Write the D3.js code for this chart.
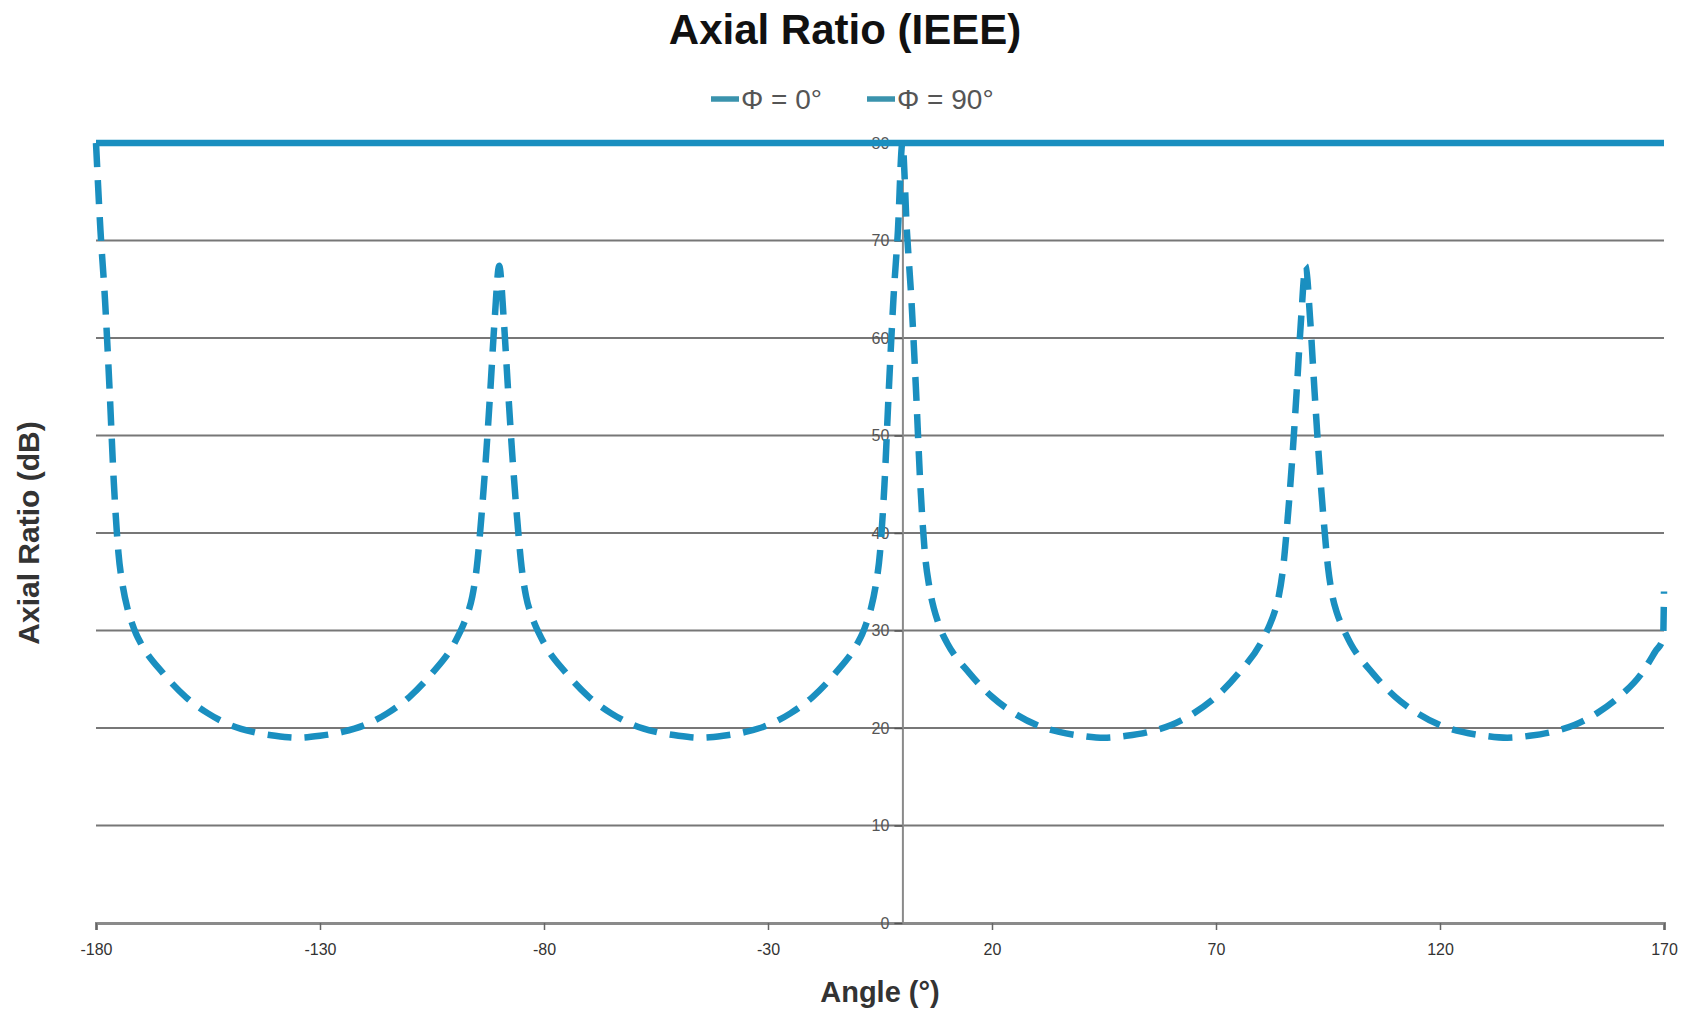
<!DOCTYPE html>
<html>
<head>
<meta charset="utf-8">
<script src="https://cdn.jsdelivr.net/npm/d3@7/dist/d3.min.js"></script>
<style>
  html, body { margin: 0; padding: 0; background: #fff; }
  svg { display: block; font-family: "Liberation Sans", Arial, sans-serif; }
</style>
</head>
<body>
<svg id="chart" width="1696" height="1012"></svg>
<script>
// ---- Data ----
const seriesNames = ["\u03A6 = 0\u00B0", "\u03A6 = 90\u00B0"];

const phi0Angles = [-180, 170];
const phi0Values = [80, 80];

const phi90Angles = [
  -180, -179, -178, -177, -176, -175, -174, -173, -172, -171, -170,
  -165, -160, -155, -150, -145, -140, -135, -130, -125, -120, -115, -110, -105,
  -100, -99, -98, -97, -96, -95, -94, -93, -92, -91, -90,
  -89, -88, -87, -86, -85, -84, -83, -82, -81, -80,
  -75, -70, -65, -60, -55, -50, -45, -40, -35, -30, -25, -20, -15,
  -10, -9, -8, -7, -6, -5, -4, -3, -2, -1, 0,
  1, 2, 3, 4, 5, 6, 7, 8, 9, 10,
  15, 20, 25, 30, 35, 40, 45, 50, 55, 60, 65, 70, 75,
  80, 81, 82, 83, 84, 85, 86, 87, 88, 89, 90,
  91, 92, 93, 94, 95, 96, 97, 98, 99, 100,
  105, 110, 115, 120, 125, 130, 135, 140, 145, 150, 155, 160, 165,
  168, 169.8, 170
];
const phi90Values = [
  80, 71, 64, 55, 45, 38, 34.5, 32.3, 30.8, 29.6, 28.7,
  25.6, 23.2, 21.5, 20.3, 19.6, 19.2, 19.0, 19.2, 19.6, 20.3, 21.5, 23.2, 25.6,
  28.7, 29.6, 30.6, 31.8, 33.5, 36.5, 41.5, 47.5, 54.5, 62, 67.4,
  62, 54.5, 47.5, 41.5, 36.5, 33.5, 31.8, 30.6, 29.6, 28.7,
  25.6, 23.2, 21.5, 20.3, 19.6, 19.2, 19.0, 19.2, 19.6, 20.3, 21.5, 23.2, 25.6,
  28.7, 29.6, 30.8, 32.3, 34.5, 38, 45, 55, 64, 71, 80,
  71, 64, 55, 45, 38, 34.5, 32.3, 30.8, 29.6, 28.7,
  25.6, 23.2, 21.5, 20.3, 19.6, 19.2, 19.0, 19.2, 19.6, 20.3, 21.5, 23.2, 25.6,
  28.7, 29.6, 30.6, 31.8, 33.5, 36.5, 41.5, 47.5, 54.5, 62, 67.4,
  62, 54.5, 47.5, 41.5, 36.5, 33.5, 31.8, 30.6, 29.6, 28.7,
  25.6, 23.2, 21.5, 20.3, 19.6, 19.2, 19.0, 19.2, 19.6, 20.3, 21.5, 23.2, 25.6,
  27.8, 29.2, 34
];

const xTicks = [-180, -130, -80, -30, 20, 70, 120, 170];
const yTicks = [0, 10, 20, 30, 40, 50, 60, 70, 80];
const gridValues = [10, 20, 30, 40, 50, 60, 70, 80];

// ---- Chart ----
const svg = d3.select("#chart");
const lineColor = "#1a8fc0";

const x = d3.scaleLinear().domain([-180, 170]).range([96, 1664]);
const y = d3.scaleLinear().domain([0, 80]).range([923, 143]);

svg.append("rect").attr("width", 1696).attr("height", 1012).attr("fill", "#fff");

// gridlines
svg.append("g").selectAll("line").data(gridValues).join("line")
  .attr("x1", x(-180)).attr("x2", x(170))
  .attr("y1", d => y(d)).attr("y2", d => y(d))
  .attr("stroke", "#777").attr("stroke-width", 2);

// x axis
const xAxis = svg.append("g")
  .attr("transform", `translate(0,${y(0)})`)
  .call(d3.axisBottom(x).tickValues(xTicks).tickSize(7).tickPadding(14).tickFormat(d => String(d)));
xAxis.select(".domain").attr("stroke", "#8a8a8a").attr("stroke-width", 3);
xAxis.selectAll(".tick line").attr("stroke", "#666").attr("stroke-width", 1.5);
xAxis.selectAll(".tick text").attr("font-size", 16).attr("fill", "#333")
  .attr("font-family", "'Liberation Sans', Arial, sans-serif");

// y axis at angle 0
const yAxis = svg.append("g")
  .attr("transform", `translate(${x(0)},0)`)
  .call(d3.axisLeft(y).tickValues(yTicks).tickSize(8).tickPadding(5).tickFormat(d => String(d)));
yAxis.select(".domain").attr("stroke", "#8a8a8a").attr("stroke-width", 2);
yAxis.selectAll(".tick line").attr("stroke", "#555").attr("stroke-width", 1.5);
yAxis.selectAll(".tick text").attr("font-size", 16).attr("fill", "#555")
  .attr("font-family", "'Liberation Sans', Arial, sans-serif");

// series
const line = d3.line().x(d => x(d[0])).y(d => y(d[1])).curve(d3.curveMonotoneX);
const phi0 = phi0Angles.map((a, i) => [a, phi0Values[i]]);
const phi90 = phi90Angles.map((a, i) => [a, phi90Values[i]]);

svg.append("path").datum(phi90).attr("d", line)
  .attr("fill", "none").attr("stroke", lineColor).attr("stroke-width", 6.5)
  .attr("stroke-dasharray", "24,13").attr("stroke-linejoin", "round");

svg.append("path").datum(phi0).attr("d", line)
  .attr("fill", "none").attr("stroke", lineColor).attr("stroke-width", 6.5);

// title
svg.append("text").attr("x", 845).attr("y", 44).attr("text-anchor", "middle")
  .attr("font-size", 42).attr("font-weight", "bold").attr("fill", "#111")
  .text("Axial Ratio (IEEE)");

// legend
const legendItems = [
  { name: seriesNames[0], sx: 711, tx: 741 },
  { name: seriesNames[1], sx: 867, tx: 897 }
];
const lg = svg.append("g");
legendItems.forEach(it => {
  lg.append("line").attr("x1", it.sx).attr("x2", it.sx + 28)
    .attr("y1", 99).attr("y2", 99)
    .attr("stroke", "#3a93ad").attr("stroke-width", 5.5);
  lg.append("text").attr("x", it.tx).attr("y", 109)
    .attr("font-size", 28).attr("fill", "#555").text(it.name);
});

// axis titles
svg.append("text").attr("x", 880).attr("y", 1002).attr("text-anchor", "middle")
  .attr("font-size", 29).attr("font-weight", "bold").attr("fill", "#333")
  .text("Angle (\u00B0)");

svg.append("text").attr("transform", "translate(39,533) rotate(-90)")
  .attr("text-anchor", "middle")
  .attr("font-size", 30).attr("font-weight", "bold").attr("fill", "#333")
  .text("Axial Ratio (dB)");
</script>
</body>
</html>
